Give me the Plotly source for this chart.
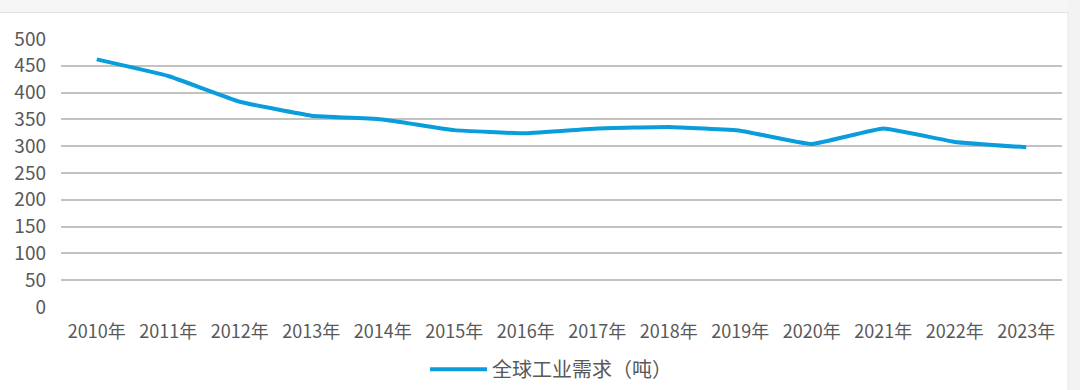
import plotly.graph_objects as go

years = ["2010年", "2011年", "2012年", "2013年", "2014年", "2015年", "2016年",
         "2017年", "2018年", "2019年", "2020年", "2021年", "2022年", "2023年"]
demand = [462, 431, 383, 357, 350, 330, 324, 333, 336, 329, 304, 333, 308, 298]
series_name = "全球工业需求（吨）"
y_ticks = [0, 50, 100, 150, 200, 250, 300, 350, 400, 450, 500]

FONT = "Noto Sans CJK SC"
TXT = "#595959"

fig = go.Figure()
fig.add_trace(go.Scatter(
    x=years, y=demand, name=series_name, mode="lines",
    line=dict(color="#0a9ddc", width=4, shape="spline", smoothing=0.3),
    showlegend=True,
))

PH = 267.7
PW = 1001.0
fig.update_layout(
    width=1080, height=390,
    margin=dict(l=61, r=18, t=39, b=83, autoexpand=False),
    paper_bgcolor="white", plot_bgcolor="white",
    font=dict(family=FONT, size=18, color=TXT),
    showlegend=True,
    legend=dict(orientation="h", x=(425 - 61) / PW, xanchor="left", y=-(369 - 306.7) / PH,
                yanchor="middle", itemwidth=57,
                font=dict(family=FONT, size=20, color=TXT), bgcolor="rgba(0,0,0,0)"),
    xaxis=dict(type="category", range=[-0.5, 13.5], showgrid=False, showline=False,
               ticks="", automargin=False, ticklabelstandoff=12,
               tickfont=dict(family=FONT, size=18, color=TXT)),
    yaxis=dict(range=[0, 500], tickvals=y_ticks, showgrid=True, gridcolor="#c2c2c2",
               gridwidth=1.5, zeroline=False, showline=False, ticks="", automargin=False,
               ticklabelstandoff=14,
               tickfont=dict(family=FONT, size=19, color=TXT)),
    shapes=[
        dict(type="rect", xref="paper", yref="paper", x0=-61 / PW, x1=1019 / PW,
             y0=(306.7 - 12) / PH, y1=390 / PH, fillcolor="#f6f6f6", line=dict(width=0), layer="below"),
        dict(type="line", xref="paper", yref="paper", x0=-61 / PW, x1=1007 / PW,
             y0=(306.7 - 12.5) / PH, y1=(306.7 - 12.5) / PH, line=dict(color="#e3e3e3", width=1)),
        dict(type="rect", xref="paper", yref="paper", x0=(1068 - 61) / PW, x1=1019 / PW,
             y0=-83 / PH, y1=390 / PH, fillcolor="#f3f3f3", line=dict(width=0), layer="below"),
        dict(type="line", xref="paper", yref="paper", x0=(1068 - 61) / PW, x1=(1068 - 61) / PW,
             y0=-83 / PH, y1=(306.7 - 12) / PH, line=dict(color="#e6e6e6", width=1)),
    ],
)

fig.write_html("out.html", config={"displayModeBar": False},
               post_script="document.body.style.margin='0';")
